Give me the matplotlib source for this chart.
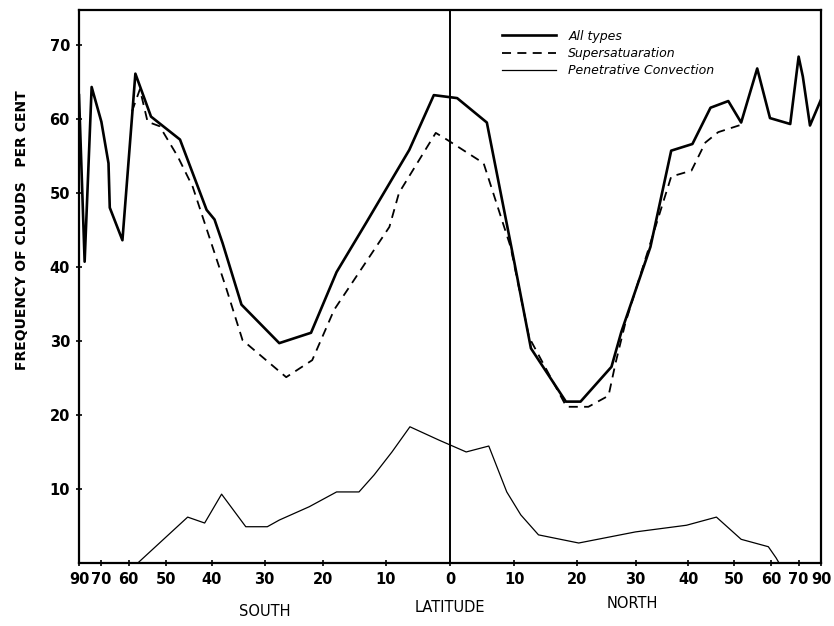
import numpy as np
import matplotlib.pyplot as plt

# latitudes: south negative, north positive (degrees)
all_lat = [-90, -80, -75, -70, -67, -66.5, -62, -58, -53.7, -46.7, -41, -39.4, -37.8,
           -34.2, -27.4, -22, -17.8, -13.1, -6.3, -2.5, 1.1, 5.7, 9.9, 12.6, 18.2,
           20.6, 25.8, 27.5, 32.7, 36.6, 40.8, 44.6, 48.6, 51.7, 55.9, 59.6, 66.5,
           70, 72, 76, 90]
all_val = [63.2, 40.7, 64.3, 59.6, 54, 48, 43.6, 66.1, 60.3, 57.2, 47.7, 46.4, 43.2,
           34.9, 29.7, 31.1, 39.3, 45.9, 55.8, 63.2, 62.8, 59.5, 41, 29, 21.8,
           21.8, 26.5, 31.2, 42.7, 55.7, 56.6, 61.5, 62.4, 59.5, 66.8, 60.1, 59.3,
           68.4, 65.7, 59.1, 62.6]

sup_lat = [-59, -56.7, -54.6, -51.5, -47.2, -43.9, -37, -34, -26.2, -21.8, -18.2,
           -9.4, -7.9, -2.2, -0.5, 5.2, 9.4, 12.3, 18.3, 21.9, 25.3, 26.5, 28.2,
           36.6, 40.6, 43.5, 46.3, 51.7]
sup_val = [61, 64, 59.6, 59, 54.9, 50.8, 36.9, 30.1, 25.1, 27.4, 34.2,
           45.4, 50, 58.1, 57.2, 54, 42.7, 30.5, 21.1, 21.1, 22.6, 27, 32.4,
           52.2, 53, 56.8, 58.2, 59.2]

pen_lat = [-57.3, -45, -41.4, -38, -33.4, -29.5, -27.4, -22.3, -17.8, -14.2, -11.8,
           -9, -6.2, -1.7, 2.5, 6, 8.8, 11, 13.8, 20.3, 30, 39.6, 45.9, 51.7,
           59.1, 61.5, 62.5]
pen_val = [0, 6.2, 5.4, 9.3, 4.9, 4.9, 5.8, 7.6, 9.6, 9.6, 11.9,
           15, 18.4, 16.6, 15, 15.8, 9.6, 6.5, 3.8, 2.7, 4.2, 5.1, 6.2, 3.2,
           2.2, 0.7, 0]

tick_lat = [-90, -70, -60, -50, -40, -30, -20, -10, 0, 10, 20, 30, 40, 50, 60, 70, 90]
y_ticks = [10, 20, 30, 40, 50, 60, 70]


def s(lat):
    return np.sin(np.radians(np.asarray(lat, dtype=float)))


fig = plt.figure(figsize=(8.34, 6.26), dpi=100)
ax = fig.add_axes([79 / 834, 1 - 563 / 626, 742 / 834, 553 / 626])

ax.plot(s(all_lat), all_val, color="black", lw=1.9, label="All types")
ax.plot(s(sup_lat), sup_val, color="black", lw=1.3, linestyle=(0, (5, 3.5)),
        label="Supersatuaration")
ax.plot(s(pen_lat), pen_val, color="black", lw=0.9, label="Penetrative Convection")
ax.axvline(0, color="black", lw=1.4)

ax.set_xlim(-1, 1)
ax.set_ylim(0, 74.7)
ax.set_xticks(s(tick_lat))
ax.set_xticklabels([str(abs(t)) for t in tick_lat], fontsize=10.5, fontweight="bold")
ax.set_yticks(y_ticks)
ax.set_yticklabels([str(t) for t in y_ticks], fontsize=10.5, fontweight="bold")
ax.tick_params(axis="both", direction="inout", length=5, width=1.2, pad=4)
for sp in ax.spines.values():
    sp.set_linewidth(1.6)

leg = ax.legend(loc="upper left", bbox_to_anchor=(0.555, 0.985), frameon=False,
                handlelength=4.3, handletextpad=1.0, labelspacing=0.35,
                prop={"size": 9, "style": "italic"})

fig.text(22 / 834, 1 - 230 / 626, "FREQUENCY OF CLOUDS   PER CENT", rotation=90,
         ha="center", va="center", fontsize=10, fontweight="bold")
fig.text(265 / 834, 1 - 611 / 626, "SOUTH", ha="center", va="center", fontsize=10.5)
fig.text(450 / 834, 1 - 607 / 626, "LATITUDE", ha="center", va="center", fontsize=10.5)
fig.text(632 / 834, 1 - 603 / 626, "NORTH", ha="center", va="center", fontsize=10.5)

fig.savefig("out.png", dpi=100)
